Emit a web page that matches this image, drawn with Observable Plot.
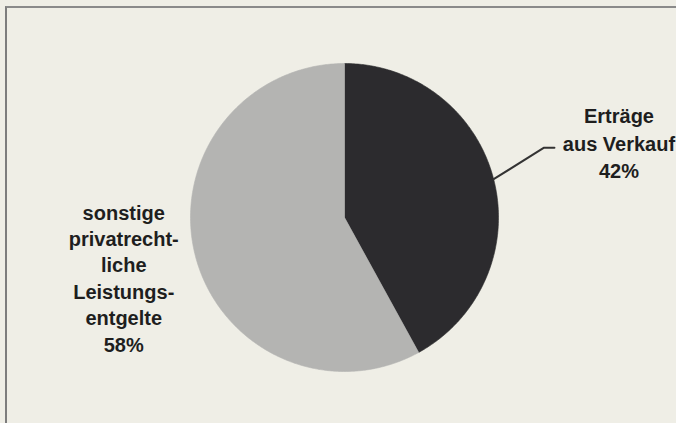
<!DOCTYPE html>
<html>
<head>
<meta charset="utf-8">
<script src="https://cdn.jsdelivr.net/npm/d3@7"></script>
<script src="https://cdn.jsdelivr.net/npm/@observablehq/plot@0.6"></script>
<style>
  html, body { margin: 0; padding: 0; background: #efeee6; }
  #wrap { position: relative; width: 676px; height: 423px; background: #efeee6; overflow: hidden; }
  #border { position: absolute; left: 5px; top: 6px; width: 700px; height: 430px;
            border-left: 2px solid #7d7d7d; border-top: 2px solid #8a8a8a; pointer-events: none; }
  #chart { position: absolute; left: 0; top: 0; }
</style>
</head>
<body>
<div id="wrap"><div id="chart"></div><div id="border"></div></div>
<script>
// Data
const categories = ["Erträge aus Verkauf", "sonstige privatrechtliche Leistungsentgelte"];
const labels = ["Erträge\naus Verkauf\n42%", "sonstige\nprivatrecht-\nliche\nLeistungs-\nentgelte\n58%"];
const values = [42, 58];
const colors = ["#2c2b2e", "#b4b4b2"];

// Build pie geometry from data (angles clockwise from 12 o'clock, unit radius)
const total = d3.sum(values);
let acc = 0;
const slices = values.map((v, i) => {
  const a0 = acc / total * 2 * Math.PI;
  acc += v;
  const a1 = acc / total * 2 * Math.PI;
  return {name: categories[i], label: labels[i], a0, a1, mid: (a0 + a1) / 2};
});
const polar = (a, r) => ({x: r * Math.sin(a), y: r * Math.cos(a)});
const pts = [];
for (const s of slices) {
  pts.push({name: s.name, ...polar(0, 0)});
  const n = Math.max(8, Math.ceil((s.a1 - s.a0) / 0.01));
  for (let k = 0; k <= n; k++) pts.push({name: s.name, ...polar(s.a0 + (s.a1 - s.a0) * k / n, 1)});
  pts.push({name: s.name, ...polar(0, 0)});
}

// leader for the first slice
const s0 = slices[0];
const p1 = polar(s0.mid, 1.0);
const p2 = polar(s0.mid - 0.085, 1.37);
const p3 = {x: p2.x + 0.07, y: p2.y};
const leader = [p1, p2, p3];

const labelPos = [
  {...polar(slices[0].mid, 1.84), text: slices[0].label, dy: -5},
  {...polar(slices[1].mid, 1.48), text: slices[1].label, dy: 3}
];

const W = 676, H = 423, R = 154, CX = 344, CY = 217;

const textOpts = {
  x: "x", y: "y", text: "text",
  fontSize: 20, fontWeight: "bold",
  fontFamily: "'Liberation Sans', Arial, sans-serif",
  fill: "#1e1e1e", textAnchor: "middle"
};

const chart = Plot.plot({
  width: W, height: H,
  margin: 0,
  style: {background: "transparent", overflow: "visible"},
  x: {domain: [-CX / R, (W - CX) / R], axis: null},
  y: {domain: [-(H - CY) / R, CY / R], axis: null},
  color: {domain: categories, range: colors},
  marks: [
    Plot.line(pts, {x: "x", y: "y", z: "name", fill: "name", stroke: "name", strokeWidth: 0.6, curve: "linear"}),
    Plot.line(leader, {x: "x", y: "y", stroke: "#333", strokeWidth: 2}),
    Plot.text([labelPos[0]], {...textOpts, dy: labelPos[0].dy, lineHeight: 1.37}),
    Plot.text([labelPos[1]], {...textOpts, dy: labelPos[1].dy, lineHeight: 1.32})
  ]
});
document.getElementById("chart").appendChild(chart);
</script>
</body>
</html>
